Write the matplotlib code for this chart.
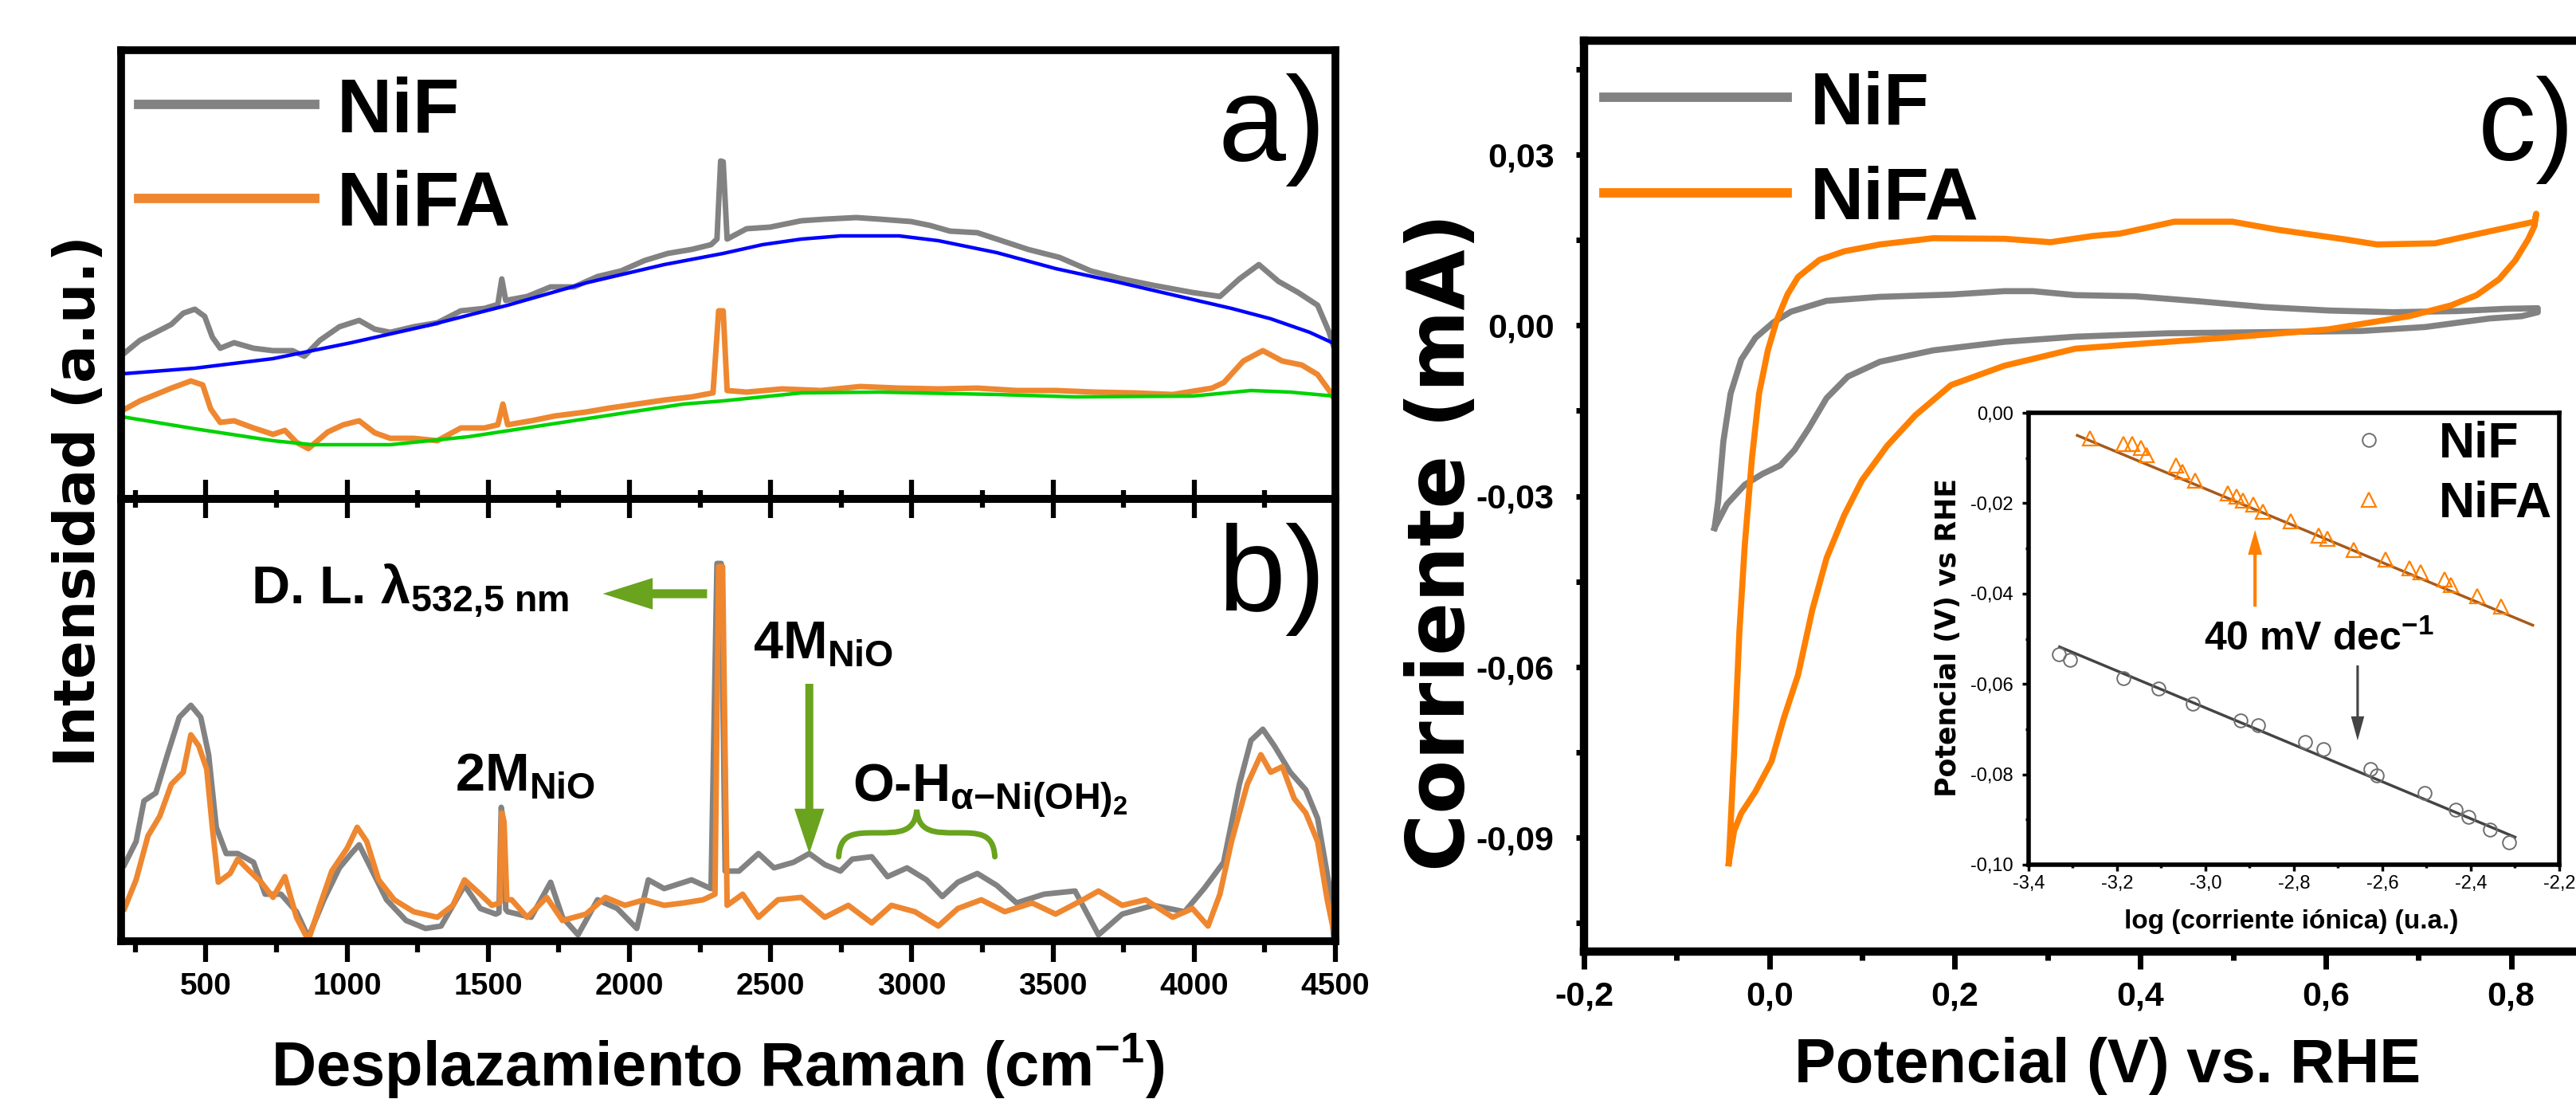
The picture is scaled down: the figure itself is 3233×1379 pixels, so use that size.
import numpy as np
import matplotlib
matplotlib.use('Agg')
import matplotlib.pyplot as plt
from matplotlib import font_manager
from matplotlib.path import Path
from matplotlib.patches import PathPatch
from matplotlib.lines import Line2D
from matplotlib.ticker import MultipleLocator

# ---------------- data ----------------
raman_ticks = [500, 1000, 1500, 2000, 2500, 3000, 3500, 4000, 4500]
raman_tick_labels = ['500', '1000', '1500', '2000', '2500', '3000', '3500', '4000', '4500']

# panel a) raw spectra (arbitrary units) and fitted backgrounds
nif_a_x = [212, 267, 323, 378, 420, 461, 496, 523, 551, 600, 669, 738, 807, 849, 904, 973, 1043, 1098, 1153, 1236,
           1320, 1403, 1486, 1534, 1548, 1562, 1638, 1721, 1804, 1887, 1970, 2053, 2136, 2220, 2289, 2310, 2323, 2332,
           2346, 2415, 2498, 2609, 2692, 2803, 2886, 2997, 3066, 3135, 3232, 3301, 3412, 3523, 3634, 3745, 3855, 3994,
           4091, 4160, 4229, 4298, 4368, 4437, 4478, 4492]
nif_a_y = [183, 199, 209, 219, 233, 238, 229, 203, 189, 196, 189, 186, 186, 179, 199, 216, 224, 213, 209, 216,
           221, 236, 239, 244, 276, 249, 254, 266, 266, 279, 286, 299, 308, 313, 319, 326, 424, 423,
           326, 339, 341, 349, 351, 353, 351, 348, 343, 336, 334, 326, 313, 303, 286, 276, 268, 259,
           254, 276, 294, 273, 259, 243, 209, 193]
nifa_a_x = [205, 267, 323, 378, 447, 489, 517, 551, 600, 669, 738, 780, 821, 863, 932, 987, 1043, 1098, 1153, 1236,
            1320, 1403, 1486, 1534, 1552, 1569, 1652, 1735, 1846, 1929, 2026, 2123, 2220, 2296, 2316, 2332, 2346,
            2415, 2540, 2678, 2817, 2955, 3094, 3232, 3371, 3509, 3648, 3786, 3924, 4063, 4105, 4174, 4243, 4312,
            4381, 4437, 4478, 4495]
nifa_a_y = [111, 123, 131, 139, 148, 143, 113, 96, 98, 89, 81, 86, 71, 63, 84, 93, 98, 83, 76, 76,
            73, 89, 89, 93, 119, 93, 98, 104, 109, 114, 119, 124, 128, 133, 236, 236, 136,
            134, 138, 136, 141, 139, 138, 139, 136, 136, 134, 133, 131, 139, 146, 173, 186, 173,
            168, 156, 136, 126]
base_nif_x = [205, 461, 738, 1015, 1292, 1569, 1846, 2123, 2332, 2471, 2609, 2748, 2955, 3094, 3301, 3509, 3717,
              3924, 4132, 4271, 4409, 4495]
base_nif_y = [157, 164, 176, 196, 218, 243, 271, 294, 308, 319, 326, 330, 330, 324, 309, 289, 273,
              256, 239, 226, 209, 195]
base_nifa_x = [205, 461, 738, 877, 1153, 1430, 1707, 1984, 2192, 2332, 2609, 2886, 3301, 3578, 3994, 4201, 4340, 4495]
base_nifa_y = [103, 88, 73, 68, 68, 78, 93, 108, 119, 123, 133, 134, 131, 128, 129, 136, 134, 129]

# panel b) background-subtracted spectra (arbitrary units)
nif_b_x = [212, 253, 281, 323, 364, 406, 447, 482, 510, 537, 572, 613, 669, 710, 766, 821, 863, 918, 973, 1015,
           1043, 1084, 1140, 1209, 1278, 1333, 1416, 1472, 1527, 1538, 1546, 1554, 1562, 1569, 1652, 1721, 1763,
           1818, 1887, 1957, 2026, 2067, 2123, 2220, 2289, 2310, 2325, 2339, 2388, 2457, 2512, 2581, 2637, 2692,
           2747, 2789, 2858, 2914, 2983, 3052, 3108, 3163, 3232, 3301, 3371, 3468, 3578, 3661, 3745, 3855, 3966,
           4035, 4104, 4160, 4201, 4243, 4284, 4340, 4395, 4437, 4478, 4495]
nif_b_y = [96, 125, 176, 186, 234, 281, 296, 281, 234, 143, 110, 110, 99, 59, 59, 37, 5, 52, 92, 110,
           121, 92, 52, 26, 16, 19, 70, 41, 34, 36, 168, 150, 40, 37, 30, 74, 30,
           8, 52, 41, 16, 77, 66, 77, 66, 474, 474, 88, 88, 110, 92, 99, 110, 96,
           88, 103, 106, 81, 92, 77, 56, 74, 85, 70, 48, 59, 63, 8, 34, 45, 37,
           66, 99, 197, 252, 266, 245, 212, 190, 154, 70, 1]
nifa_b_x = [212, 253, 295, 337, 378, 420, 447, 475, 503, 523, 544, 586, 613, 655, 696, 738, 780, 821, 863, 904,
            946, 1001, 1036, 1070, 1112, 1167, 1236, 1320, 1375, 1416, 1472, 1513, 1541, 1548, 1556, 1566, 1583,
            1638, 1707, 1763, 1846, 1915, 1984, 2053, 2123, 2192, 2261, 2303, 2316, 2330, 2346, 2401, 2457, 2526,
            2609, 2692, 2775, 2858, 2928, 3011, 3094, 3163, 3246, 3329, 3426, 3509, 3606, 3661, 3745, 3828, 3924,
            3994, 4049, 4091, 4132, 4188, 4236, 4271, 4312, 4354, 4395, 4437, 4471, 4492]
nifa_b_y = [41, 77, 132, 157, 197, 212, 259, 245, 216, 143, 74, 85, 103, 88, 74, 55, 81, 30, 1, 45,
            88, 117, 143, 125, 77, 52, 37, 30, 45, 77, 59, 45, 48, 161, 150, 52, 52,
            30, 55, 26, 34, 55, 45, 52, 45, 48, 52, 59, 470, 470, 45, 59, 30, 52,
            55, 30, 45, 23, 45, 37, 19, 41, 52, 37, 48, 34, 52, 63, 45, 52, 30,
            41, 19, 59, 125, 197, 234, 212, 219, 179, 161, 125, 52, 16]

# panel c) cyclic voltammograms (V vs RHE, mA)
cv_nif_v = [-0.0592, -0.0554, -0.0497, -0.0419, -0.0304, -0.0151, 0.0041, 0.0233, 0.0616, 0.1192, 0.1958, 0.2534,
            0.2840, 0.3301, 0.3951, 0.4645, 0.5339, 0.6033, 0.6726, 0.7420, 0.7940, 0.8287,
            0.8287, 0.8113, 0.7766, 0.7073, 0.6379, 0.5339, 0.4299, 0.3301, 0.2534, 0.1766, 0.1192, 0.0846,
            0.0616, 0.0424, 0.0271, 0.0118, -0.0075, -0.0266, -0.0458, -0.0592]
cv_nif_i = [-0.0356, -0.0310, -0.0204, -0.0120, -0.0060, -0.0022, 0.0005, 0.0024, 0.0043, 0.0050, 0.0054, 0.0060,
            0.0060, 0.0053, 0.0051, 0.0042, 0.0032, 0.0026, 0.0023, 0.0025, 0.0029, 0.0030,
            0.0023, 0.0016, 0.0012, -0.0003, -0.0010, -0.0012, -0.0014, -0.0020, -0.0029, -0.0044, -0.0064, -0.0090,
            -0.0128, -0.0181, -0.0219, -0.0246, -0.0261, -0.0280, -0.0314, -0.0356]
cv_nifa_v = [-0.0439, -0.0381, -0.0324, -0.0266, -0.0189, -0.0112, -0.0017, 0.0079, 0.0194, 0.0309, 0.0540, 0.0808,
             0.1192, 0.1766, 0.2534, 0.3032, 0.3492, 0.3778, 0.4368, 0.4992, 0.5478, 0.6206, 0.6553, 0.7177,
             0.7766, 0.8253, 0.8270,
             0.8253, 0.8183, 0.8044, 0.7870, 0.7628, 0.7351, 0.6899, 0.6033, 0.4992, 0.3951, 0.3301, 0.2534,
             0.1958, 0.1574, 0.1268, 0.0999, 0.0808, 0.0616, 0.0462, 0.0309, 0.0155, 0.0022, -0.0151, -0.0304,
             -0.0381, -0.0439]
cv_nifa_i = [-0.0945, -0.0751, -0.0538, -0.0386, -0.0234, -0.0120, -0.0044, 0.0009, 0.0054, 0.0085, 0.0115, 0.0130,
             0.0142, 0.0153, 0.0152, 0.0146, 0.0157, 0.0161, 0.0182, 0.0182, 0.0168, 0.0151, 0.0142, 0.0144,
             0.0165, 0.0182, 0.0196,
             0.0175, 0.0151, 0.0114, 0.0081, 0.0053, 0.0035, 0.0016, -0.0007, -0.0021, -0.0033, -0.0041, -0.0071,
             -0.0105, -0.0158, -0.0212, -0.0272, -0.0333, -0.0409, -0.0500, -0.0614, -0.0690, -0.0766, -0.0819,
             -0.0857, -0.0888, -0.0945]
cv_xticks = [-0.2, 0.0, 0.2, 0.4, 0.6, 0.8]
cv_xtick_labels = ['-0,2', '0,0', '0,2', '0,4', '0,6', '0,8']
cv_yticks = [-0.09, -0.06, -0.03, 0.0, 0.03]
cv_ytick_labels = ['-0,09', '-0,06', '-0,03', '0,00', '0,03']

# inset: Tafel plots
tafel_nifa_x = [-3.261, -3.185, -3.165, -3.146, -3.133, -3.067, -3.052, -3.023, -2.950, -2.930, -2.915, -2.891,
                -2.871, -2.807, -2.744, -2.724, -2.665, -2.592, -2.538, -2.513, -2.460, -2.445, -2.386, -2.332]
tafel_nifa_y = [-0.0057, -0.0069, -0.0069, -0.0077, -0.0093, -0.0117, -0.0130, -0.0150, -0.0178, -0.0186, -0.0194,
                -0.0202, -0.0219, -0.0239, -0.0271, -0.0279, -0.0304, -0.0324, -0.0344, -0.0352, -0.0368, -0.0381,
                -0.0405, -0.0429]
tafel_nif_x = [-3.332, -3.307, -3.185, -3.106, -3.028, -2.920, -2.881, -2.774, -2.734, -2.627, -2.612, -2.504,
               -2.435, -2.406, -2.357, -2.313]
tafel_nif_y = [-0.0534, -0.0547, -0.0587, -0.0611, -0.0644, -0.0680, -0.0692, -0.0729, -0.0745, -0.0789, -0.0802,
               -0.0842, -0.0879, -0.0895, -0.0923, -0.0951]
fit_nifa_x = [-3.29, -2.26]
fit_nifa_y = [-0.0050, -0.0470]
fit_nif_x = [-3.33, -2.30]
fit_nif_y = [-0.0518, -0.0939]
tafel_xticks = [-3.4, -3.2, -3.0, -2.8, -2.6, -2.4, -2.2]
tafel_xtick_labels = ['-3,4', '-3,2', '-3,0', '-2,8', '-2,6', '-2,4', '-2,2']
tafel_yticks = [-0.10, -0.08, -0.06, -0.04, -0.02, 0.00]
tafel_ytick_labels = ['-0,10', '-0,08', '-0,06', '-0,04', '-0,02', '0,00']

series_labels = ['NiF', 'NiFA']

# ---------------- style ----------------
GRAY = '#828282'
ORANGE_R = '#EE8730'
ORANGE_CV = '#FF8000'
BLUE = '#0000FF'
GREEN_BASE = '#00D200'
GREEN_ANN = '#6AA31E'
BROWN = '#A65A1C'
DARK = '#444444'

names = {f.name for f in font_manager.fontManager.ttflist}
HAS_NARROW = 'Liberation Sans Narrow' in names

plt.rcParams['font.family'] = ['Liberation Sans', 'DejaVu Sans']
plt.rcParams['mathtext.fontset'] = 'custom'
plt.rcParams['mathtext.rm'] = 'Liberation Sans'
plt.rcParams['mathtext.bf'] = 'Liberation Sans:bold'
plt.rcParams['mathtext.it'] = 'Liberation Sans:italic'
plt.rcParams['mathtext.default'] = 'bf'

W, H, DPI = 3233, 1379, 100
fig = plt.figure(figsize=(W / DPI, H / DPI), dpi=DPI)


def fx(px):
    return px / W


def fy(py):
    return 1 - py / H


def rect(l, t, r, b):
    return [fx(l), fy(b), (r - l) / W, (b - t) / H]


ax_b = fig.add_axes(rect(152, 626, 1676, 1181))
ax_a = fig.add_axes(rect(152, 63, 1676, 626))
ax_a.set_zorder(3)
ax_a.patch.set_alpha(0)
ax_c = fig.add_axes(rect(1988, 51, 3268, 1194))
ax_i = fig.add_axes(rect(2546, 518, 3212, 1085))

# ---------------- panel a ----------------
ax_a.plot(nif_a_x, nif_a_y, color=GRAY, lw=5, solid_joinstyle='round')
ax_a.plot(nifa_a_x, nifa_a_y, color=ORANGE_R, lw=5, solid_joinstyle='round')
ax_a.plot(base_nif_x, base_nif_y, color=BLUE, lw=3.2)
ax_a.plot(base_nifa_x, base_nifa_y, color=GREEN_BASE, lw=3.2)
ax_a.set_xlim(200, 4500)
ax_a.set_ylim(0, 563)
ax_a.set_xticks(raman_ticks)
ax_a.xaxis.set_minor_locator(MultipleLocator(250))
ax_a.tick_params(axis='x', which='major', direction='inout', length=34, width=4.5,
                 bottom=True, top=False, labelbottom=False)
ax_a.tick_params(axis='x', which='minor', direction='inout', length=16, width=4.5, bottom=True, top=False)
ax_a.tick_params(axis='y', which='both', left=False, right=False, labelleft=False)
for s in ax_a.spines.values():
    s.set_linewidth(7)

h_leg_a = [Line2D([], [], color=GRAY, lw=8.5), Line2D([], [], color=ORANGE_R, lw=8.5)]
ax_a.legend(h_leg_a, series_labels, loc='upper left', bbox_to_anchor=(fx(174), fy(95)),
            bbox_transform=fig.transFigure, frameon=False, borderpad=0, borderaxespad=0,
            handlelength=2.31, handletextpad=0.28, labelspacing=0.29,
            prop=dict(family='Liberation Sans', weight='bold', size=69))

# ---------------- panel b ----------------
ax_b.plot(nif_b_x, nif_b_y, color=GRAY, lw=5, solid_joinstyle='round')
ax_b.plot(nifa_b_x, nifa_b_y, color=ORANGE_R, lw=5, solid_joinstyle='round')
ax_b.set_xlim(200, 4500)
ax_b.set_ylim(0, 555)
ax_b.set_xticks(raman_ticks, raman_tick_labels, fontsize=28, fontweight='bold')
ax_b.xaxis.set_minor_locator(MultipleLocator(250))
ax_b.tick_params(axis='x', which='major', direction='out', length=19, width=4.5, pad=9, top=False)
ax_b.tick_params(axis='x', which='minor', direction='out', length=10, width=4.5, top=False)
ax_b.tick_params(axis='y', which='both', left=False, right=False, labelleft=False)
for s in ax_b.spines.values():
    s.set_linewidth(7)

ann_kw = dict(fontsize=48, fontweight='bold', ha='left', va='baseline')
ax_b.text(661, 425, r'D. L. $\lambda_{532{,}5\ nm}$', **ann_kw)
ax_b.text(1383, 190, r'2M$_{NiO}$', **ann_kw)
ax_b.text(2437, 356, r'4M$_{NiO}$', **ann_kw)
ax_b.text(2789, 176, r'O-H$_{\alpha{-}Ni(OH)_2}$', **ann_kw)
ax_b.annotate('', xy=(1906, 436), xytext=(2275, 436),
              arrowprops=dict(arrowstyle='simple,head_width=0.95,head_length=1.5,tail_width=0.27',
                              color=GREEN_ANN, lw=0, mutation_scale=30, shrinkA=0, shrinkB=0))
ax_b.annotate('', xy=(2637, 110), xytext=(2637, 323),
              arrowprops=dict(arrowstyle='simple,head_width=0.9,head_length=1.35,tail_width=0.24',
                              color=GREEN_ANN, lw=0, mutation_scale=30, shrinkA=0, shrinkB=0))


def brace(ax, xa, xb, y0, y1, y2, **kw):
    w = xb - xa
    xm = (xa + xb) / 2
    verts = [(xa, y0),
             (xa + 0.01 * w, y1), (xa + 0.10 * w, y1), (xa + 0.25 * w, y1),
             (xm - 0.12 * w, y1), (xm - 0.01 * w, y1), (xm, y2),
             (xm + 0.01 * w, y1), (xm + 0.12 * w, y1), (xb - 0.25 * w, y1),
             (xb - 0.10 * w, y1), (xb - 0.01 * w, y1), (xb, y0)]
    codes = [Path.MOVETO] + [Path.CURVE4] * 12
    ax.add_patch(PathPatch(Path(verts, codes), fill=False, **kw))


brace(ax_b, 2741, 3294, 106, 136, 165, edgecolor=GREEN_ANN, lw=5, capstyle='round')

# ---------------- panel c ----------------
ax_c.plot(cv_nif_v, cv_nif_i, color=GRAY, lw=5.5, solid_joinstyle='round')
ax_c.plot(cv_nifa_v, cv_nifa_i, color=ORANGE_CV, lw=5.5, solid_joinstyle='round')
ax_c.set_xlim(-0.2, 0.9)
ax_c.set_ylim(-0.11, 0.05)
ax_c.set_xticks(cv_xticks, cv_xtick_labels, fontsize=31, fontweight='bold')
ax_c.set_yticks(cv_yticks, cv_ytick_labels, fontsize=31, fontweight='bold')
ax_c.xaxis.set_minor_locator(MultipleLocator(0.1))
ax_c.yaxis.set_minor_locator(MultipleLocator(0.015))
ax_c.tick_params(axis='x', which='major', direction='out', length=16, width=5, pad=10, top=False)
ax_c.tick_params(axis='x', which='minor', direction='out', length=8, width=5, top=False)
ax_c.tick_params(axis='y', which='major', direction='out', length=7, width=5, pad=20, right=False)
ax_c.tick_params(axis='y', which='minor', direction='out', length=7, width=5, right=False)
for s in ax_c.spines.values():
    s.set_linewidth(7.5)

h_leg_c = [Line2D([], [], color=GRAY, lw=8.5), Line2D([], [], color=ORANGE_CV, lw=8.5)]
ax_c.legend(h_leg_c, series_labels, loc='upper left', bbox_to_anchor=(fx(2013), fy(88)),
            bbox_transform=fig.transFigure, frameon=False, borderpad=0, borderaxespad=0,
            handlelength=2.47, handletextpad=0.31, labelspacing=0.36,
            prop=dict(family='Liberation Sans', weight='bold', size=67))

# ---------------- inset ----------------
ax_i.set_facecolor('white')
ax_i.plot(fit_nifa_x, fit_nifa_y, color=BROWN, lw=2.5)
ax_i.plot(fit_nif_x, fit_nif_y, color=DARK, lw=2.5)
p_nif, = ax_i.plot(tafel_nif_x, tafel_nif_y, ls='none', marker='o', ms=12, mfc='none', mec='#6E6E6E', mew=1.4)
p_nifa, = ax_i.plot(tafel_nifa_x, tafel_nifa_y, ls='none', marker='^', ms=13, mfc='none', mec=ORANGE_CV, mew=1.6)
ax_i.set_xlim(-3.4, -2.2)
ax_i.set_ylim(-0.10, 0.0)
ax_i.set_xticks(tafel_xticks, tafel_xtick_labels, fontsize=17)
ax_i.set_yticks(tafel_yticks, tafel_ytick_labels, fontsize=17)
ax_i.xaxis.set_minor_locator(MultipleLocator(0.1))
ax_i.yaxis.set_minor_locator(MultipleLocator(0.01))
ax_i.tick_params(axis='both', which='major', direction='out', length=6, width=2.5, top=False, right=False)
ax_i.tick_params(axis='both', which='minor', direction='out', length=3, width=2.5, top=False, right=False)
ax_i.tick_params(axis='x', pad=3)
ax_i.tick_params(axis='y', pad=8)
for s in ax_i.spines.values():
    s.set_linewidth(4)
ax_i.legend([p_nif, p_nifa], series_labels, loc='upper left', bbox_to_anchor=(fx(2942), fy(528)),
            bbox_transform=fig.transFigure, frameon=False, borderpad=0, borderaxespad=0,
            handlelength=1.0, handletextpad=0.9, labelspacing=0.26,
            prop=dict(family='Liberation Sans', weight='bold', size=45))
ax_i.text(-2.744, -0.0526, r'40 mV dec$^{-1}$', fontsize=36, fontweight='bold', ha='center', va='baseline')
ax_i.annotate('', xy=(-2.888, -0.0259), xytext=(-2.888, -0.0429),
              arrowprops=dict(arrowstyle='simple,head_width=0.85,head_length=1.5,tail_width=0.2',
                              color=ORANGE_CV, lw=0, mutation_scale=15, shrinkA=0, shrinkB=0))
ax_i.annotate('', xy=(-2.656, -0.0725), xytext=(-2.656, -0.0559),
              arrowprops=dict(arrowstyle='simple,head_width=0.8,head_length=1.45,tail_width=0.15',
                              color=DARK, lw=0, mutation_scale=15, shrinkA=0, shrinkB=0))

# ---------------- labels ----------------
fig.text(fx(100), fy(629), 'Intensidad (a.u.)', rotation=90, ha='center', va='center',
         family='DejaVu Sans', fontweight='bold', fontsize=51)
fig.text(fx(901), fy(1338), r'Desplazamiento Raman (cm$^{-1}$)', ha='center', va='center',
         fontweight='bold', fontsize=56)
fig.text(fx(1810), fy(680), 'Corriente (mA)', rotation=90, ha='center', va='center',
         family='DejaVu Sans', fontweight='bold', fontsize=71)
if HAS_NARROW:
    fig.text(fx(2645), fy(1338), 'Potencial (V) vs. RHE', ha='center', va='center',
             family=['Liberation Sans Narrow', 'Liberation Sans'], fontweight='bold', fontsize=68)
else:
    fig.text(fx(2645), fy(1338), 'Potencial (V) vs. RHE', ha='center', va='center',
             fontweight='bold', fontsize=56)
fig.text(fx(2445), fy(800), 'Potencial (V) vs RHE', rotation=90, ha='center', va='center',
         family='DejaVu Sans', fontweight='bold', fontsize=25)
fig.text(fx(2876), fy(1157), 'log (corriente iónica) (u.a.)', ha='center', va='center',
         fontweight='bold', fontsize=24)

fig.text(fx(1664), fy(163), 'a)', ha='right', va='center', fontsize=110)
fig.text(fx(1664), fy(727), 'b)', ha='right', va='center', fontsize=110)
fig.text(fx(3110), fy(163), 'c)', ha='left', va='center', fontsize=105)

fig.savefig('out.png', dpi=DPI)
